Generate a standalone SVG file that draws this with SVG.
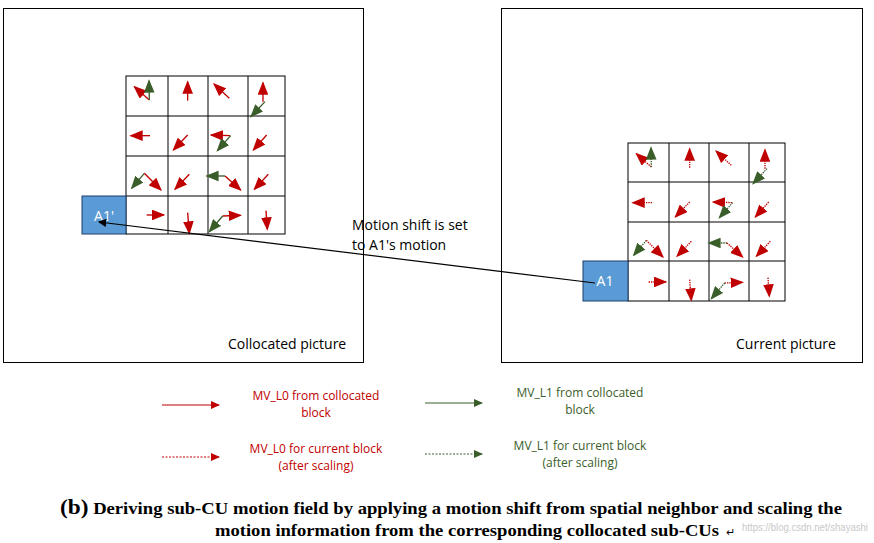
<svg xmlns="http://www.w3.org/2000/svg" xmlns:xlink="http://www.w3.org/1999/xlink" width="874" height="543" viewBox="0 0 874 543">
<style>
.t{font-family:"Open Sans","Liberation Sans",sans-serif;font-size:14px;fill:#000}
.lr{font-family:"Open Sans","Liberation Sans",sans-serif;font-size:12px;fill:#C00000;text-anchor:middle}
.lg{font-family:"Open Sans","Liberation Sans",sans-serif;font-size:12px;fill:#3A5E2A;text-anchor:middle}
.cap{font-family:"Liberation Serif",serif;font-weight:bold;font-size:16px;fill:#000}
.cell{fill:#fff;stroke:#000;stroke-width:1}
.blk{fill:#5B9BD5;stroke:#1F3F6A;stroke-width:1}
.bt{font-family:"Open Sans","Liberation Sans",sans-serif;font-size:14px;fill:#fff;text-anchor:middle}
</style>
<defs>
<marker id="mr" markerWidth="8" markerHeight="8" refX="7" refY="4" orient="auto" markerUnits="strokeWidth"><path d="M0,0.5 L8,4 L0,7.5 z" fill="#C00000"/></marker>
<marker id="mg" markerWidth="8" markerHeight="8" refX="7" refY="4" orient="auto" markerUnits="strokeWidth"><path d="M0,0.5 L8,4 L0,7.5 z" fill="#3A5E2A"/></marker>
<marker id="gr" markerWidth="10" markerHeight="8" refX="9" refY="4" orient="auto" markerUnits="strokeWidth"><path d="M0,0 L10,4 L0,8 z" fill="#C00000"/></marker>
<marker id="gg" markerWidth="10" markerHeight="8" refX="9" refY="4" orient="auto" markerUnits="strokeWidth"><path d="M0,0 L10,4 L0,8 z" fill="#3A5E2A"/></marker>
<marker id="mk" markerWidth="7" markerHeight="7" refX="6" refY="3.5" orient="auto" markerUnits="strokeWidth"><path d="M0,0 L7,3.5 L0,7 z" fill="#000"/></marker>
<g id="arrows" transform="scale(0.3333)" fill="none" stroke-width="4">
<line x1="208" y1="90" x2="163" y2="50" stroke="#C00000" marker-end="url(#gr)"/>
<line x1="208" y1="90" x2="207" y2="32" stroke="#3A5E2A" marker-end="url(#gg)"/>
<line x1="323" y1="92" x2="323" y2="35" stroke="#C00000" marker-end="url(#gr)"/>
<line x1="448" y1="85" x2="402" y2="42" stroke="#C00000" marker-end="url(#gr)"/>
<line x1="549" y1="95" x2="549" y2="38" stroke="#C00000" marker-end="url(#gr)"/>
<line x1="555" y1="95" x2="513" y2="140" stroke="#3A5E2A" marker-end="url(#gg)"/>
<line x1="210" y1="197" x2="152" y2="197" stroke="#C00000" marker-end="url(#gr)"/>
<line x1="323" y1="195" x2="280" y2="240" stroke="#C00000" marker-end="url(#gr)"/>
<line x1="450" y1="197" x2="393" y2="195" stroke="#C00000" marker-end="url(#gr)"/>
<line x1="452" y1="197" x2="412" y2="242" stroke="#3A5E2A" marker-end="url(#gg)"/>
<line x1="560" y1="195" x2="520" y2="240" stroke="#C00000" marker-end="url(#gr)"/>
<line x1="193" y1="310" x2="155" y2="355" stroke="#3A5E2A" marker-end="url(#gg)"/>
<line x1="193" y1="310" x2="243" y2="360" stroke="#C00000" marker-end="url(#gr)"/>
<line x1="328" y1="313" x2="285" y2="358" stroke="#C00000" marker-end="url(#gr)"/>
<line x1="435" y1="318" x2="380" y2="318" stroke="#3A5E2A" marker-end="url(#gg)"/>
<line x1="435" y1="318" x2="482" y2="360" stroke="#C00000" marker-end="url(#gr)"/>
<line x1="565" y1="313" x2="523" y2="358" stroke="#C00000" marker-end="url(#gr)"/>
<line x1="200" y1="435" x2="252" y2="435" stroke="#C00000" marker-end="url(#gr)"/>
<line x1="323" y1="428" x2="328" y2="490" stroke="#C00000" marker-end="url(#gr)"/>
<line x1="428" y1="438" x2="482" y2="436" stroke="#C00000" marker-end="url(#gr)"/>
<line x1="428" y1="438" x2="388" y2="485" stroke="#3A5E2A" marker-end="url(#gg)"/>
<line x1="558" y1="422" x2="562" y2="478" stroke="#C00000" marker-end="url(#gr)"/>
</g>
</defs>
<g id="collocated-frame"><rect x="3.5" y="8.5" width="360" height="354" fill="#fff" stroke="#000"/><text class="t" x="228" y="349">Collocated picture</text></g>
<g id="current-frame"><rect x="501.5" y="8.5" width="361" height="354" fill="#fff" stroke="#000"/><text class="t" x="736" y="349">Current picture</text></g>
<g id="collocated-grid">
<rect class="cell" x="126" y="76" width="159" height="158"/>
<path d="M168,76V234M208,76V234M248,76V234M126,116H285M126,156H285M126,196H285" stroke="#000" fill="none"/>
</g>
<g id="current-grid">
<rect class="cell" x="628" y="143" width="157" height="158"/>
<path d="M669,143V301M709,143V301M749,143V301M628,182H785M628,222H785M628,261H785" stroke="#000" fill="none"/>
</g>
<g id="A1p"><rect class="blk" x="82" y="196" width="44" height="38"/><text class="bt" x="104" y="221">A1'</text></g>
<g id="A1"><rect class="blk" x="583" y="261" width="45" height="40"/><text class="bt" x="605" y="286">A1</text></g>
<g id="connectors">
<use xlink:href="#arrows" transform="translate(80,70)"/>
<use xlink:href="#arrows" transform="translate(582,137)" stroke-dasharray="4 3"/>
<line x1="595" y1="283" x2="99" y2="222" stroke="#000" stroke-width="1.2" marker-end="url(#mk)"/>
<line x1="162" y1="405" x2="219" y2="405" stroke="#C00000" stroke-width="1.2" marker-end="url(#mr)"/>
<line x1="425" y1="403" x2="482" y2="403" stroke="#3A5E2A" stroke-width="1.2" marker-end="url(#mg)"/>
<line x1="162" y1="457" x2="219" y2="457" stroke="#C00000" stroke-width="1.2" stroke-dasharray="2 1.5" marker-end="url(#mr)"/>
<line x1="425" y1="454" x2="482" y2="454" stroke="#3A5E2A" stroke-width="1.2" stroke-dasharray="2 1.5" marker-end="url(#mg)"/>
</g>
<g id="motion-label"><text class="t" x="352" y="230">Motion shift is set</text><text class="t" x="352" y="250">to A1's motion</text></g>
<g id="legend">
<text class="lr" x="316" y="400">MV_L0 from collocated</text><text class="lr" x="316" y="417">block</text>
<text class="lg" x="580" y="397">MV_L1 from collocated</text><text class="lg" x="580" y="414">block</text>
<text class="lr" x="316" y="453">MV_L0 for current block</text><text class="lr" x="316" y="470">(after scaling)</text>
<text class="lg" x="580" y="450">MV_L1 for current block</text><text class="lg" x="580" y="467">(after scaling)</text>
</g>
<g id="caption">
<text x="742" y="531" font-family="Liberation Sans,sans-serif" font-size="10" fill="#c8c8c8" textLength="126" lengthAdjust="spacingAndGlyphs">https://blog.csdn.net/shayashi</text>
<text class="cap" x="60" y="514" textLength="782" lengthAdjust="spacingAndGlyphs"><tspan font-size="20">(b)</tspan> Deriving sub-CU motion field by applying a motion shift from spatial neighbor and scaling the</text>
<text class="cap" x="215" y="536" textLength="504" lengthAdjust="spacingAndGlyphs">motion information from the corresponding collocated sub-CUs</text>
<text x="726" y="536" font-family="Liberation Serif,serif" font-size="11">↵</text>
</g>
</svg>
